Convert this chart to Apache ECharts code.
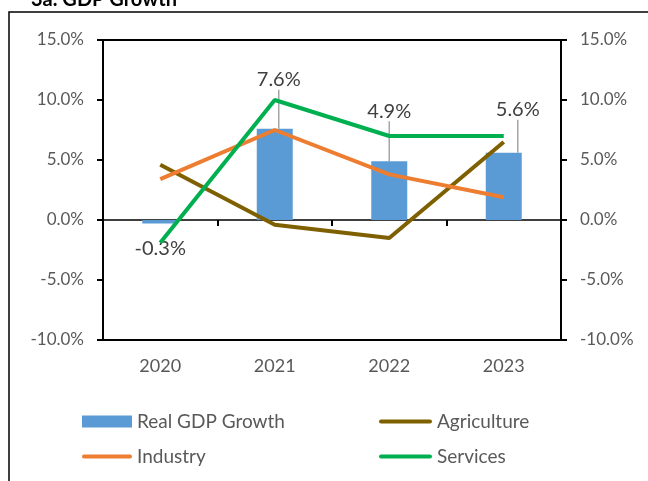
<!DOCTYPE html>
<html>
<head>
<meta charset="utf-8">
<script src="https://cdn.jsdelivr.net/npm/echarts@6/dist/echarts.min.js"></script>
<style>
  html, body { margin: 0; padding: 0; background: #fff; }
  #chart { width: 648px; height: 481px; }
</style>
</head>
<body>
<div id="chart"></div>
<script>
// data
var years = ['2020', '2021', '2022', '2023'];
var realGdp = [-0.3, 7.6, 4.9, 5.6];
var agriculture = [4.6, -0.4, -1.5, 6.5];
var industry = [3.4, 7.5, 3.8, 1.9];
var services = [-1.9, 10.0, 7.0, 7.0];

// label nudges (Excel-style moved labels with leader lines)
var labelMove = [[0, 10], [4, -34], [0, -35], [14, -28]];

var FONT = 'Lato, "Noto Sans", sans-serif';
var GREY = '#595959';
// flat line icon for the legend (no symbol dot)
var LINE_ICON = 'path://M2,0 L51,0 A2,2 0 0 1 51,4 L2,4 A2,2 0 0 1 2,0 Z';

var myChart = echarts.init(document.getElementById('chart'));

function pct(v) {
	return v.toFixed(1) + '%';
}

var yBase = {
	type: 'value',
	min: -10,
	max: 15,
	interval: 5,
	splitLine: { show: false },
	axisLine: { show: true, lineStyle: { color: '#000', width: 2 } },
	axisTick: { show: true, length: 6, lineStyle: { color: '#000', width: 2 } },
	axisLabel: {
		color: GREY,
		fontSize: 17,
		fontFamily: FONT,
		margin: 19,
		formatter: pct
	}
};

var legendText = { color: GREY, fontSize: 19, fontFamily: FONT };

var option = {
	animation: false,
	backgroundColor: '#fff',
	title: {
		text: '3a. GDP Growth',
		left: 26,
		top: -15,
		textStyle: { color: '#000', fontSize: 20, fontWeight: 'bold', fontFamily: FONT }
	},
	graphic: [{
		type: 'rect',
		shape: { x: 9, y: 12, width: 700, height: 520 },
		style: { fill: 'none', stroke: '#000', lineWidth: 1.5 },
		silent: true
	}],
	grid: {
		left: 103,
		right: 87,
		top: 40,
		bottom: 141,
		show: true,
		borderColor: '#000',
		borderWidth: 2,
		backgroundColor: 'transparent'
	},
	legend: [{
		orient: 'vertical',
		left: 82,
		top: 412,
		padding: 0,
		itemWidth: 50,
		itemHeight: 12,
		itemGap: 16,
		textStyle: legendText,
		data: [
			{ name: 'Real GDP Growth', icon: 'rect' },
			{ name: 'Industry', icon: LINE_ICON }
		]
	}, {
		orient: 'vertical',
		left: 379,
		top: 412,
		padding: 0,
		itemWidth: 53,
		itemHeight: 12,
		itemGap: 16,
		textStyle: legendText,
		data: [
			{ name: 'Agriculture', icon: LINE_ICON },
			{ name: 'Services', icon: LINE_ICON }
		]
	}],
	xAxis: [{
		type: 'category',
		data: years,
		position: 'bottom',
		axisLine: { show: false, onZero: false },
		axisTick: { show: false },
		axisLabel: { color: GREY, fontSize: 18, fontFamily: FONT, margin: 17 }
	}, {
		type: 'category',
		data: years,
		position: 'top',
		axisLine: { show: true, onZero: true, lineStyle: { color: '#000', width: 1.5 } },
		axisTick: { show: true, inside: true, length: 6, lineStyle: { color: '#000', width: 2 } },
		axisLabel: { show: false }
	}],
	yAxis: [
		Object.assign({}, yBase, { position: 'left' }),
		Object.assign({}, yBase, { position: 'right' })
	],
	series: [{
		name: 'Real GDP Growth',
		type: 'bar',
		barWidth: 36,
		itemStyle: { color: '#5B9BD5' },
		label: {
			show: true,
			position: 'top',
			color: '#404040',
			fontSize: 20,
			fontFamily: FONT,
			formatter: function(p) { return pct(p.value); }
		},
		labelLine: { show: true, lineStyle: { color: '#A6A6A6', width: 1.5 } },
		labelLayout: function(p) {
			var m = labelMove[p.dataIndex];
			return { dx: m[0], dy: m[1] };
		},
		data: realGdp.map(function(v) {
			if (v < 0) {
				return { value: v, label: { position: 'bottom' }, labelLine: { show: false } };
			}
			return v;
		})
	}, {
		name: 'Agriculture',
		type: 'line',
		symbol: 'none',
		lineStyle: { color: '#7F6000', width: 4 },
		itemStyle: { color: '#7F6000' },
		data: agriculture
	}, {
		name: 'Industry',
		type: 'line',
		symbol: 'none',
		lineStyle: { color: '#ED7D31', width: 4 },
		itemStyle: { color: '#ED7D31' },
		data: industry
	}, {
		name: 'Services',
		type: 'line',
		symbol: 'none',
		lineStyle: { color: '#00B050', width: 4 },
		itemStyle: { color: '#00B050' },
		data: services
	}]
};

myChart.setOption(option);
</script>
</body>
</html>
